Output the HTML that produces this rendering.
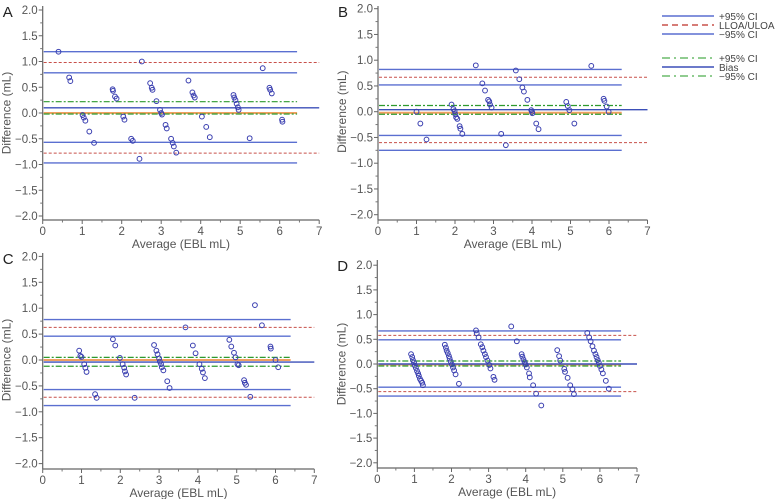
<!DOCTYPE html>
<html><head><meta charset="utf-8">
<style>
html,body{margin:0;padding:0;background:#fff;}
svg{display:block;font-family:"Liberation Sans",sans-serif;}
</style></head>
<body>
<svg id="chart" width="777" height="499" viewBox="0 0 777 499" xmlns="http://www.w3.org/2000/svg"></svg>
<script>
// ---- data ----
const xTicks = [0,1,2,3,4,5,6,7];
const yTicks = [2.0,1.5,1.0,0.5,0.0,-0.5,-1.0,-1.5,-2.0];
const panelLetters = ["A","B","C","D"];
// reference lines: [upperCI, ULOA, lowerCI-of-upper, greenUpper, bias, orange, greenLower, upperCI-of-lower, LLOA, lowerCI]
const linesA = [1.19,0.98,0.78,0.22,0.10,0.0,-0.02,-0.57,-0.78,-0.97];
const linesB = [0.82,0.67,0.52,0.12,0.04,-0.02,-0.05,-0.46,-0.60,-0.75];
const linesC = [0.78,0.63,0.46,0.05,-0.04,0.0,-0.12,-0.57,-0.72,-0.88];
const linesD = [0.67,0.58,0.49,0.06,0.0,-0.01,-0.04,-0.47,-0.56,-0.65];
const ciEndA = 6.44, ciEndB = 6.33, ciEndC = 6.39, ciEndD = 6.57;
const avgA = [0.40,0.67,0.70,1.01,1.04,1.08,1.18,1.30,1.77,1.78,1.83,1.87,2.04,2.07,2.24,2.28,2.45,2.51,2.72,2.76,2.78,2.88,2.97,3.0,3.02,3.11,3.14,3.25,3.29,3.32,3.38,3.69,3.79,3.82,3.85,4.03,4.14,4.23,4.83,4.85,4.88,4.91,4.94,4.96,5.24,5.57,5.74,5.76,5.80,6.06,6.07];
const diffA = [1.19,0.69,0.62,-0.04,-0.09,-0.15,-0.36,-0.58,0.46,0.43,0.32,0.28,-0.07,-0.13,-0.50,-0.54,-0.89,1.0,0.58,0.49,0.45,0.23,0.06,0.0,-0.03,-0.23,-0.30,-0.50,-0.58,-0.65,-0.77,0.63,0.40,0.34,0.30,-0.07,-0.27,-0.47,0.35,0.30,0.25,0.18,0.11,0.06,-0.49,0.87,0.49,0.45,0.38,-0.13,-0.17];
const avgB = [1.0,1.1,1.26,1.91,1.96,1.99,2.01,2.03,2.06,2.12,2.14,2.19,2.54,2.71,2.78,2.86,2.89,2.91,2.95,3.2,3.32,3.58,3.67,3.75,3.79,3.88,3.98,4.0,4.01,4.11,4.17,4.89,4.93,4.97,5.10,5.54,5.86,5.88,5.94,5.99];
const diffB = [0.0,-0.23,-0.54,0.14,0.05,0.01,-0.05,-0.11,-0.14,-0.28,-0.33,-0.43,0.90,0.55,0.41,0.23,0.20,0.14,0.08,-0.43,-0.65,0.80,0.63,0.47,0.39,0.23,0.03,0.0,-0.03,-0.23,-0.34,0.19,0.11,0.03,-0.23,0.89,0.25,0.21,0.10,0.0];
const avgC = [0.94,0.97,1.0,1.07,1.10,1.13,1.35,1.39,1.81,1.87,1.99,2.06,2.10,2.12,2.15,2.37,2.87,2.93,2.96,3.0,3.02,3.05,3.07,3.11,3.21,3.27,3.68,3.87,3.94,4.04,4.10,4.13,4.18,4.81,4.86,4.93,4.97,5.02,5.05,5.19,5.21,5.24,5.35,5.47,5.65,5.87,5.88,6.0,6.07];
const diffC = [0.18,0.08,0.06,-0.08,-0.15,-0.23,-0.66,-0.73,0.40,0.28,0.04,-0.08,-0.15,-0.22,-0.28,-0.73,0.29,0.18,0.11,0.03,-0.03,-0.08,-0.14,-0.20,-0.41,-0.54,0.63,0.28,0.13,-0.08,-0.17,-0.24,-0.35,0.39,0.26,0.14,0.05,-0.08,-0.10,-0.39,-0.44,-0.48,-0.71,1.06,0.67,0.26,0.22,0.0,-0.14];
const avgD = [0.91,0.94,0.96,0.99,1.01,1.04,1.07,1.10,1.12,1.15,1.18,1.21,1.23,1.82,1.85,1.87,1.90,1.93,1.95,1.98,2.01,2.04,2.07,2.11,2.20,2.66,2.68,2.73,2.79,2.83,2.86,2.90,2.93,2.97,3.02,3.05,3.13,3.16,3.61,3.76,3.89,3.91,3.94,3.97,4.0,4.03,4.09,4.11,4.20,4.28,4.42,4.85,4.90,4.93,5.04,5.06,5.13,5.20,5.26,5.30,5.66,5.71,5.75,5.80,5.84,5.88,5.91,5.94,5.97,6.0,6.04,6.08,6.16,6.24];
const diffD = [0.20,0.14,0.08,0.03,-0.03,-0.08,-0.14,-0.19,-0.24,-0.30,-0.34,-0.38,-0.43,0.39,0.33,0.27,0.22,0.16,0.11,0.05,-0.01,-0.07,-0.13,-0.21,-0.40,0.68,0.62,0.54,0.40,0.34,0.27,0.20,0.14,0.07,-0.02,-0.09,-0.26,-0.32,0.76,0.46,0.20,0.15,0.09,0.04,-0.01,-0.07,-0.19,-0.27,-0.43,-0.60,-0.84,0.28,0.16,0.07,-0.10,-0.16,-0.28,-0.43,-0.51,-0.61,0.63,0.54,0.46,0.36,0.27,0.20,0.14,0.08,0.03,-0.04,-0.11,-0.19,-0.34,-0.50];

const NS = "http://www.w3.org/2000/svg";
const svg = document.getElementById("chart");
function mk(tag, attrs, parent){
  const e = document.createElementNS(NS, tag);
  for (const k in attrs) e.setAttribute(k, attrs[k]);
  (parent||svg).appendChild(e);
  return e;
}
const geoms = [
  {x0:42.7, xs:39.5, y0:113, ys:51.5, ax:220, top:6},
  {x0:378, xs:38.5, y0:111.7, ys:51.5, ax:220, top:6},
  {x0:42.7, xs:38.8, y0:360, ys:51.8, ax:469, top:253},
  {x0:377.3, xs:37.1, y0:364, ys:49.4, ax:468, top:260}
];
const allLines = [linesA, linesB, linesC, linesD];
const ciEnds = [ciEndA, ciEndB, ciEndC, ciEndD];
const avgs = [avgA, avgB, avgC, avgD];
const diffs = [diffA, diffB, diffC, diffD];

geoms.forEach((g, p) => {
  const X = v => g.x0 + v * g.xs;
  const Y = v => g.y0 - v * g.ys;
  const grp = mk("g", {});
  
  
  const lt = mk("text", {x: g.x0 - 40, y: g.top + 11, "font-size": 15, fill: "#222"}, grp);
  
  
  lt.textContent = panelLetters[p];
  const ya = mk("line", {x1: g.x0, y1: g.top, x2: g.x0, y2: g.ax, stroke: "#666", "stroke-width": 1.2}, grp);
  
  
  const xa = mk("line", {x1: g.x0, y1: g.ax, x2: X(7), y2: g.ax, stroke: "#666", "stroke-width": 1.2}, grp);
  
  
  yTicks.forEach((t, i) => {
    mk("line", {x1: g.x0 - 4, y1: Y(t), x2: g.x0, y2: Y(t), stroke: "#666"}, grp);
    if (i < yTicks.length - 1) {
      const m = t - 0.25;
      mk("line", {x1: g.x0 - 2.5, y1: Y(m), x2: g.x0, y2: Y(m), stroke: "#777"}, grp);
    }
    const tl = mk("text", {x: g.x0 - 5, y: Y(t) + 4, "font-size": 11.5, fill: "#555", "text-anchor": "end"}, grp);
    
    
    tl.textContent = (t < 0 ? "\u2212" : "") + Math.abs(t).toFixed(1);
  });
  xTicks.forEach((t, i) => {
    mk("line", {x1: X(t), y1: g.ax, x2: X(t), y2: g.ax + 4, stroke: "#666"}, grp);
    if (i < xTicks.length - 1) mk("line", {x1: X(t + 0.5), y1: g.ax, x2: X(t + 0.5), y2: g.ax + 2.5, stroke: "#777"}, grp);
    const tl = mk("text", {x: X(t), y: g.ax + 15, "font-size": 11.5, fill: "#555", "text-anchor": "middle"}, grp);
    
    
    tl.textContent = t;
  });
  const xt = mk("text", {x: X(3.5), y: g.ax + 28, "font-size": 12, fill: "#555", "text-anchor": "middle"}, grp);
  
  
  xt.textContent = "Average (EBL mL)";
  const yt = mk("text", {x: 0, y: 0, "font-size": 12, fill: "#555", "text-anchor": "middle", transform: `translate(${g.x0 - 32},${Y(0)}) rotate(-90)`}, grp);
  
  
  yt.textContent = "Difference (mL)";
  const L = allLines[p], ce = ciEnds[p];
  const styles = [
    {c:"#5a6fd0", w:1.4, d:"", end:ce, n:"uloa-upper-ci"},
    {c:"#c8504a", w:1, d:"3,2", end:7, n:"uloa-line"},
    {c:"#5a6fd0", w:1.4, d:"", end:ce, n:"uloa-lower-ci"},
    {c:"#2e9a2e", w:1.2, d:"6,2,2,2", end:ce, n:"bias-upper-ci"},
    {c:"#3b4fb8", w:1.4, d:"", end:7, n:"bias-line"},
    {c:"#f0a060", w:2, d:"", end:ce, n:"zero-line"},
    {c:"#2e9a2e", w:1.2, d:"6,2,2,2", end:ce, n:"bias-lower-ci"},
    {c:"#5a6fd0", w:1.4, d:"", end:ce, n:"lloa-upper-ci"},
    {c:"#c8504a", w:1, d:"3,2", end:7, n:"lloa-line"},
    {c:"#5a6fd0", w:1.4, d:"", end:ce, n:"lloa-lower-ci"}
  ];
  const order = [5,0,1,2,3,6,4,7,8,9];
  order.forEach(i => {
    const s = styles[i];
    const ln = mk("line", {x1: g.x0 + 1, y1: Y(L[i]), x2: X(s.end), y2: Y(L[i]), stroke: s.c, "stroke-width": s.w, "stroke-dasharray": s.d}, grp);
    
    
  });
  const A = avgs[p], D = diffs[p];
  A.forEach((a, i) => {
    const c = mk("circle", {cx: X(a), cy: Y(D[i]), r: 2.4, fill: "none", stroke: "#3a3fb0", "stroke-width": 1}, grp);
    
    
  });
});

// legend
const legendLabels = ["+95% CI","LLOA/ULOA","\u221295% CI","+95% CI","Bias","\u221295% CI"];
const legendY = [16,25,34,58,67,76];
const legendStyle = [["#5a6fd0",""],["#c8504a","6,4"],["#5a6fd0",""],["#6cbc6c","8,4,2,4"],["#3b4fb8",""],["#6cbc6c","8,4,2,4"]];
const lg = mk("g", {});


legendLabels.forEach((lab, i) => {
  const e = mk("g", {}, lg);
  
  
  mk("line", {x1: 662, y1: legendY[i], x2: 714, y2: legendY[i], stroke: legendStyle[i][0], "stroke-width": 1.6, "stroke-dasharray": legendStyle[i][1]}, e);
  const t = mk("text", {x: 719, y: legendY[i] + 4, "font-size": 10, fill: "#444"}, e);
  t.textContent = lab;
});
</script>
</body></html>
